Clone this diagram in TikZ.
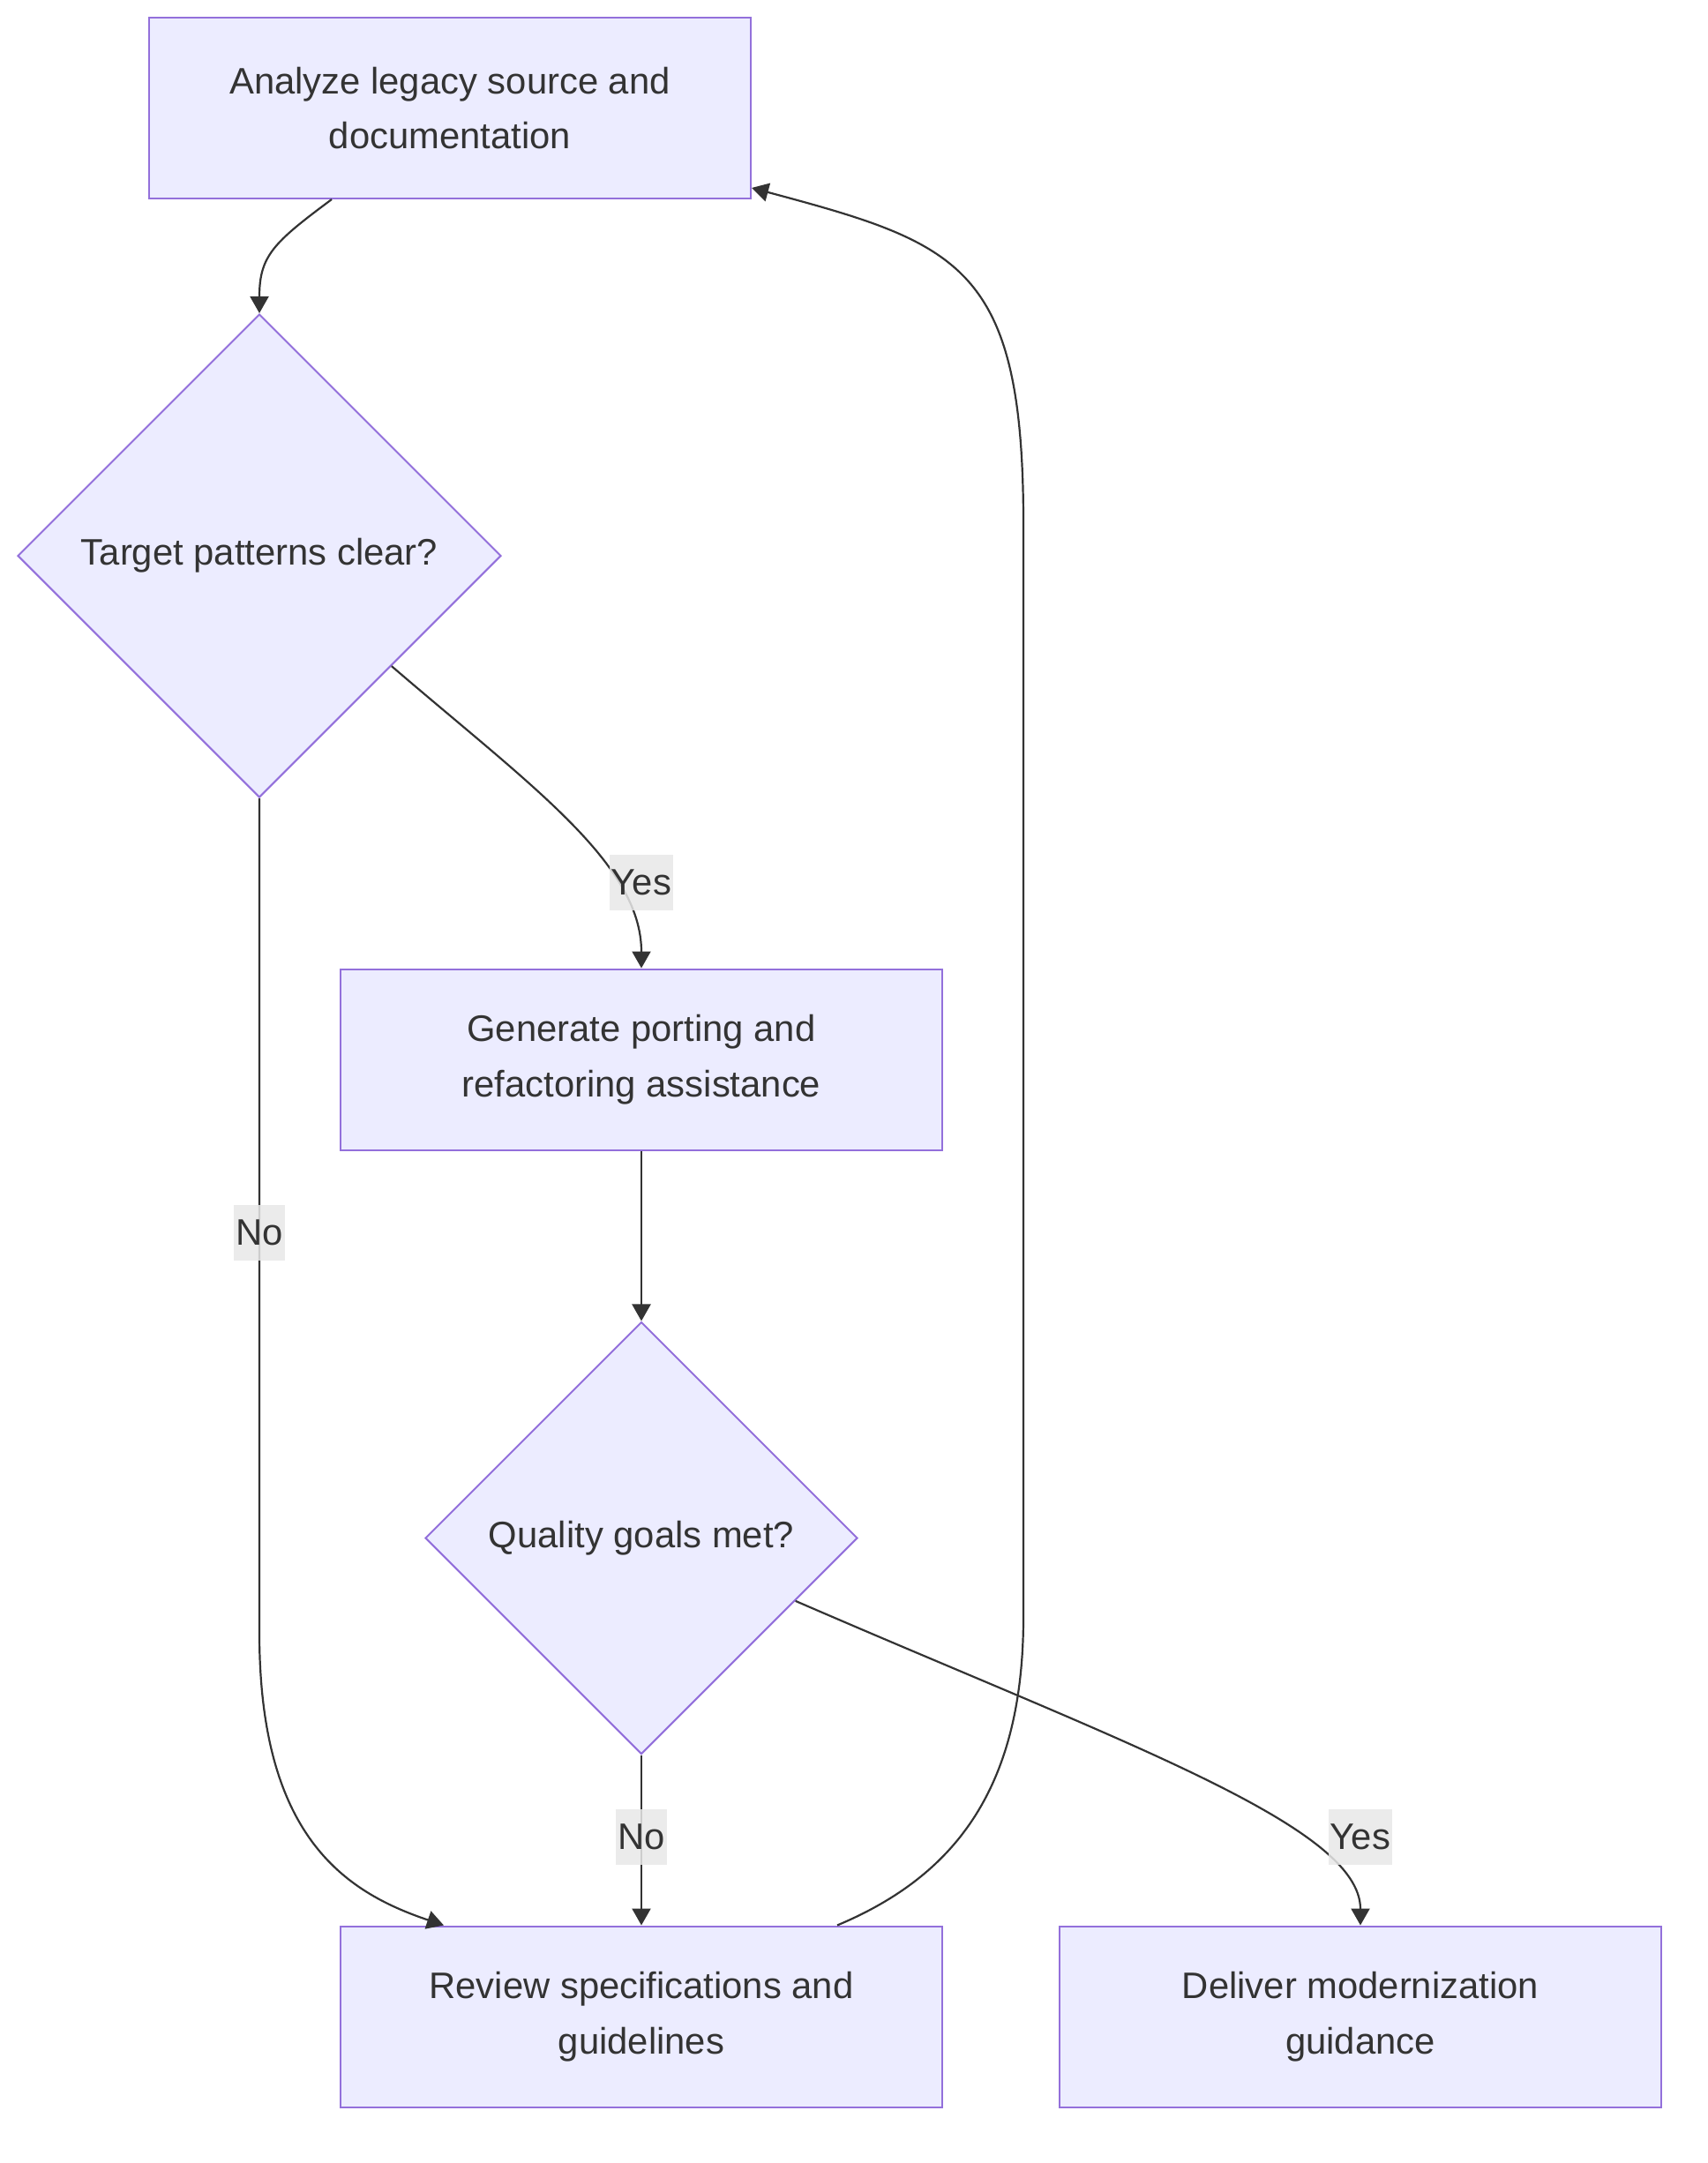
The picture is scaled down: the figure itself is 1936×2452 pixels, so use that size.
\documentclass[tikz,border=0pt]{standalone}
\usepackage{fontspec}
\setmainfont{Liberation Sans}
\usetikzlibrary{arrows.meta, positioning, shapes.geometric, calc}
\usepackage{xcolor}
\definecolor{mmfill}{HTML}{ECECFF}
\definecolor{mmborder}{HTML}{9370DB}
\definecolor{mmtext}{HTML}{333333}
\definecolor{mmlabel}{HTML}{E8E8E8}

\begin{document}
\begin{tikzpicture}[
    x=0.5pt, y=-0.5pt,
    procbox/.style={rectangle, draw=mmborder, fill=mmfill, line width=1pt,
                    minimum width=341pt, minimum height=102.5pt, align=center,
                    text=mmtext, font=\fontsize{20.9pt}{31.25pt}\selectfont},
    decision/.style={diamond, aspect=1, draw=mmborder, fill=mmfill, line width=1pt,
                     minimum width=#1, minimum height=#1, inner sep=0pt,
                     text=mmtext, font=\fontsize{20.9pt}{31.25pt}\selectfont},
    edgelabel/.style={rectangle, fill=mmlabel, fill opacity=0.85, text opacity=1,
                      inner xsep=1pt, inner ysep=0pt, minimum height=31.5pt,
                      text=mmtext, font=\fontsize{20.9pt}{31.25pt}\selectfont},
    arrow/.style={-{Triangle[length=9.5pt, width=10.5pt]}, line width=1.1pt, mmtext}
  ]
    \useasboundingbox (0,0) rectangle (1936,2452);

    \node[procbox] (analyze) at (510,122.5) {Analyze legacy source and\\documentation};
    \node[decision=274pt] (clear) at (294,630) {Target patterns clear?};
    \node[procbox] (generate) at (727,1201) {Generate porting and\\refactoring assistance};
    \node[decision=245pt, below=96.5pt of generate] (quality) {Quality goals met?};
    \node[procbox, below=96.5pt of quality] (review) {Review specifications and\\guidelines};
    \node[procbox, right=65.5pt of review] (deliver) {Deliver modernization\\guidance};

    \coordinate (loopbot) at (1160,1833);
    \coordinate (looptop) at (1160,594);

    \draw[arrow] ([xshift=-67pt]analyze.south) .. controls +(-66,49) and +(0,-65) .. (clear.north);
    \draw[arrow] ($(clear.east)!0.455!(clear.south)$) .. controls +(157,135) and +(0,-119) .. (generate.north);
    \draw[arrow] (clear.south) -- ++(0,946) .. controls +(0,230) and +(-113,-38) .. ([xshift=-112pt]review.north);
    \draw[arrow] (generate) -- (quality);
    \draw[arrow] (quality) -- (review);
    \draw[arrow] ($(quality.east)!0.29!(quality.south)$) .. controls +(369,160) and +(0,-113) .. (deliver.north);
    \draw[arrow] ([xshift=111pt]review.north) .. controls +(131,-55) and +(0,197) .. (loopbot)
        -- (looptop) .. controls +(0,-294) and +(235,63) .. ([yshift=6.5pt]analyze.south east);

    \node[edgelabel, above=32.75pt of generate] (yesgen) {Yes};
    \node[edgelabel, below=230.25pt of clear] (noclear) {No};
    \node[edgelabel, above=34.25pt of review] (noquality) {No};
    \node[edgelabel, above=34.25pt of deliver] (yesquality) {Yes};
\end{tikzpicture}
\end{document}
